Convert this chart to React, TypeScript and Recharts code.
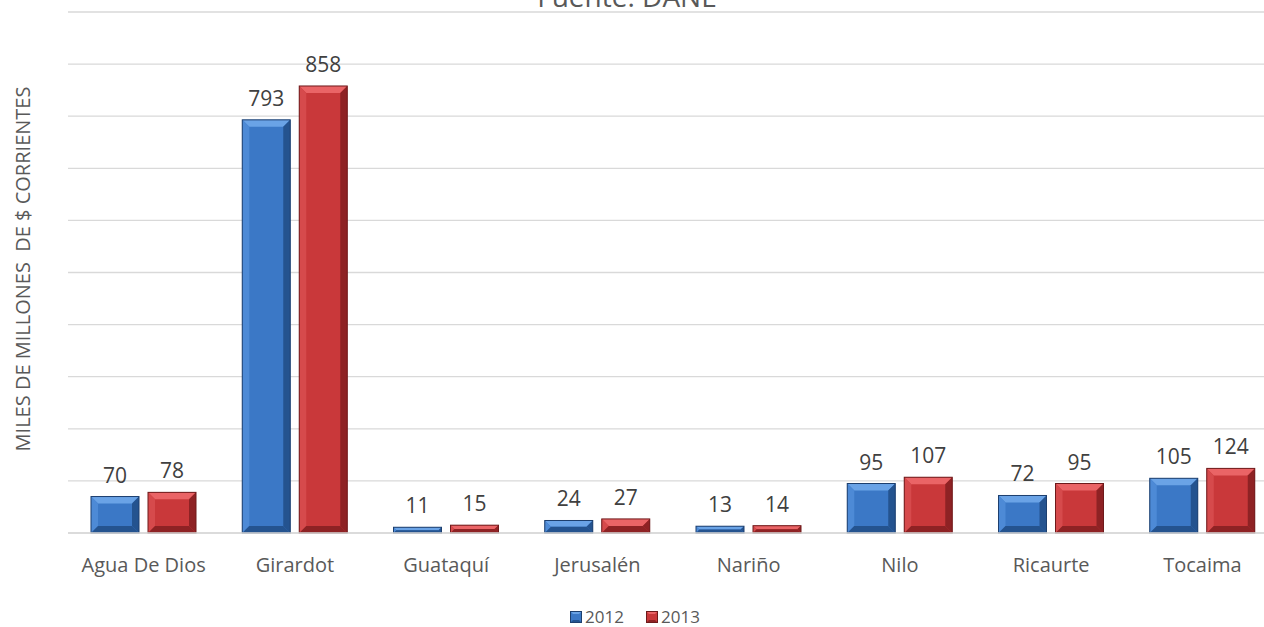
import React from "react";
import { BarChart, Bar, XAxis, YAxis, CartesianGrid, LabelList, Legend } from "recharts";

const categories = ["Agua De Dios", "Girardot", "Guataquí", "Jerusalén", "Nariño", "Nilo", "Ricaurte", "Tocaima"];
const values2012 = [70, 793, 11, 24, 13, 95, 72, 105];
const values2013 = [78, 858, 15, 27, 14, 107, 95, 124];
const yTicks = [0, 100, 200, 300, 400, 500, 600, 700, 800, 900, 1000];

const data = categories.map((c, i) => ({ name: c, y2012: values2012[i], y2013: values2013[i] }));

const FONT = "'Open Sans', 'DejaVu Sans', sans-serif";
const TEXT = "#595959";

const BLUE = { base: "#3b78c6", light: "#6aa3e6", side: "#4d8ad6", dark: "#24538f", edge: "#1d3f6e" };
const RED = { base: "#c9383a", light: "#ea6466", side: "#d64a4c", dark: "#8e2224", edge: "#6e1a1b" };

const makeShape = (pal: typeof BLUE) => (props: any) => {
  const { x, y, width: w, height: h } = props;
  if (!h || h <= 0) return <g />;
  const b = Math.min(7, h / 2, w / 2);
  return (
    <g>
      <rect x={x} y={y} width={w} height={h} fill={pal.base} />
      <polygon points={`${x},${y} ${x + w},${y} ${x + w - b},${y + b} ${x + b},${y + b}`} fill={pal.light} />
      <polygon points={`${x},${y} ${x + b},${y + b} ${x + b},${y + h - b} ${x},${y + h}`} fill={pal.side} />
      <polygon points={`${x + w},${y} ${x + w},${y + h} ${x + w - b},${y + h - b} ${x + w - b},${y + b}`} fill={pal.dark} />
      <polygon points={`${x},${y + h} ${x + b},${y + h - b} ${x + w - b},${y + h - b} ${x + w},${y + h}`} fill={pal.dark} />
      <rect x={x} y={y} width={w} height={h} fill="none" stroke={pal.edge} strokeWidth={1} />
    </g>
  );
};

const LegendContent = () => (
  <div style={{ display: "flex", justifyContent: "center", alignItems: "center", fontFamily: FONT, fontSize: 17, lineHeight: "20px", color: TEXT }}>
    {[
      { label: "2012", pal: BLUE },
      { label: "2013", pal: RED },
    ].map((it) => (
      <span key={it.label} style={{ display: "inline-flex", alignItems: "center", margin: "0 11px" }}>
        <svg width={12} height={12} style={{ marginRight: 3 }}>
          <rect x={0} y={0} width={12} height={12} fill={it.pal.base} />
          <polygon points="0,0 12,0 9,3 3,3" fill={it.pal.light} />
          <polygon points="0,12 3,9 9,9 12,12" fill={it.pal.dark} />
          <rect x={0.5} y={0.5} width={11} height={11} fill="none" stroke={it.pal.edge} />
        </svg>
        {it.label}
      </span>
    ))}
  </div>
);

const NoTick = () => <g />;

export default function App() {
  return (
    <div style={{ position: "absolute", left: 0, top: 0, width: 1264, height: 627, overflow: "hidden", background: "#fff" }}>
      <BarChart
        width={1290}
        height={627}
        data={data}
        margin={{ top: 12, right: 12, left: 68, bottom: 44 }}
        barSize={48}
        barGap={9}
      >
        <text x={627} y={7} textAnchor="middle" fontFamily={FONT} fontSize={28} fill={TEXT}>
          Fuente: DANE
        </text>
        <CartesianGrid vertical={false} stroke="#d9d9d9" strokeWidth={1.3} />
        <YAxis width={0} domain={[0, 1000]} ticks={yTicks} axisLine={false} tickLine={false} tick={<NoTick />} />
        <XAxis
          dataKey="name"
          axisLine={{ stroke: "#d9d9d9", strokeWidth: 1.3 }}
          tickLine={false}
          tick={{ fontFamily: FONT, fontSize: 20, fill: TEXT }}
          tickMargin={19}
          interval={0}
        />
        <Legend content={<LegendContent />} wrapperStyle={{ position: "absolute", top: 607, left: 3, width: 1264, height: 20 }} />
        <Bar dataKey="y2012" name="2012" fill={BLUE.base} shape={makeShape(BLUE)} isAnimationActive={false}>
          <LabelList dataKey="y2012" position="top" offset={14} style={{ fontFamily: FONT, fontSize: 21, fill: "#404040" }} />
        </Bar>
        <Bar dataKey="y2013" name="2013" fill={RED.base} shape={makeShape(RED)} isAnimationActive={false}>
          <LabelList dataKey="y2013" position="top" offset={14} style={{ fontFamily: FONT, fontSize: 21, fill: "#404040" }} />
        </Bar>
      </BarChart>
      <div
        style={{
          position: "absolute",
          left: 22,
          top: 269,
          transform: "translate(-50%, -50%) rotate(-90deg)",
          whiteSpace: "pre",
          fontFamily: FONT,
          fontSize: 20,
          color: TEXT,
        }}
      >
        MILES DE MILLONES  DE $ CORRIENTES
      </div>
    </div>
  );
}
